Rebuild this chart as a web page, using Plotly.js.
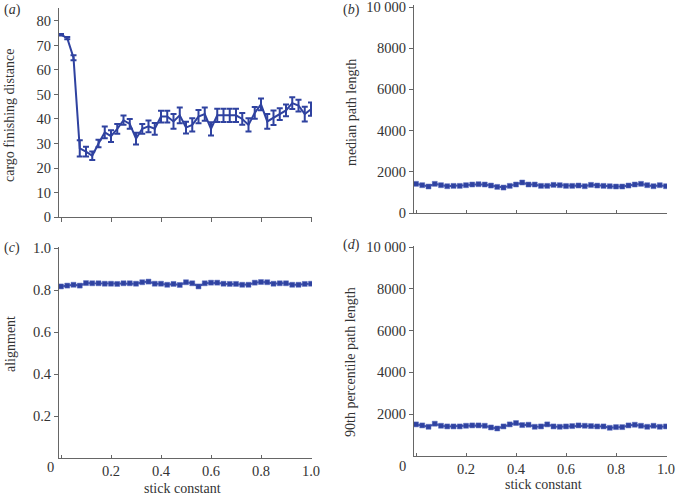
<!DOCTYPE html>
<html>
<head>
<meta charset="utf-8">
<script src="https://cdn.plot.ly/plotly-3.0.1.min.js"></script>
<style>html,body{margin:0;padding:0;background:#fff;}#plot{width:682px;height:497px;}</style>
</head>
<body>
<div id="plot"></div>
<script>
const stick = [0, 0.025, 0.05, 0.075, 0.1, 0.125, 0.15, 0.175, 0.2, 0.225, 0.25, 0.275, 0.3, 0.325, 0.35, 0.375, 0.4, 0.425, 0.45, 0.475, 0.5, 0.525, 0.55, 0.575, 0.6, 0.625, 0.65, 0.675, 0.7, 0.725, 0.75, 0.775, 0.8, 0.825, 0.85, 0.875, 0.9, 0.925, 0.95, 0.975, 1.0];

const cargoDistance = [74.4, 73, 65, 28, 26.7, 25, 30, 34.5, 33, 36, 39.5, 38, 32, 36, 37, 36, 41, 41, 39, 41.5, 36.5, 37.6, 41, 42, 36, 41.5, 41.5, 41.5, 41.5, 40, 37.6, 42.5, 46, 39, 40.5, 42, 43.5, 46.5, 45.5, 42, 44];
const cargoError = [0.3, 0.5, 1.0, 3.3, 2, 1.7, 1.5, 2.4, 2.4, 2, 1.9, 2, 2.4, 2, 2.4, 2.4, 2.4, 2.4, 3, 3.2, 2.4, 2.7, 2.7, 2.7, 2.7, 2.7, 2.7, 2.7, 2.7, 2.4, 2.7, 2.4, 2.4, 3, 3, 2.4, 2.4, 2.4, 2.4, 3, 2.7];

const medianPath = [1415, 1350, 1285, 1415, 1350, 1300, 1317, 1317, 1350, 1382, 1398, 1382, 1333, 1268, 1236, 1317, 1382, 1480, 1382, 1382, 1317, 1317, 1366, 1350, 1317, 1317, 1333, 1300, 1366, 1333, 1317, 1300, 1285, 1285, 1333, 1382, 1415, 1350, 1300, 1350, 1300];

const alignment = [0.817, 0.821, 0.825, 0.821, 0.833, 0.832, 0.832, 0.830, 0.830, 0.829, 0.832, 0.832, 0.830, 0.837, 0.840, 0.830, 0.830, 0.825, 0.829, 0.824, 0.837, 0.832, 0.817, 0.832, 0.835, 0.835, 0.830, 0.829, 0.829, 0.825, 0.825, 0.835, 0.838, 0.837, 0.830, 0.832, 0.832, 0.825, 0.825, 0.829, 0.830];

const path90 = [1512, 1463, 1398, 1545, 1447, 1415, 1415, 1415, 1447, 1463, 1463, 1447, 1366, 1317, 1415, 1512, 1577, 1480, 1496, 1398, 1415, 1512, 1415, 1398, 1415, 1431, 1463, 1447, 1431, 1415, 1415, 1350, 1382, 1382, 1463, 1496, 1447, 1398, 1447, 1398, 1415];

const xTickVals = [0, 0.2, 0.4, 0.6, 0.8, 1.0];
const xTickText = ['', '0.2', '0.4', '0.6', '0.8', '1.0'];
const yTicksA = [0, 10, 20, 30, 40, 50, 60, 70, 80];
const yTicksB = [0, 2000, 4000, 6000, 8000, 10000];
const yTextB = ['0', '2000', '4000', '6000', '8000', '10 000'];
const yTicksC = [0.2, 0.4, 0.6, 0.8, 1.0];
const yTextC = ['0.2', '0.4', '0.6', '0.8', '1.0'];
const yTicksD = [2000, 4000, 6000, 8000, 10000];
const yTextD = ['2000', '4000', '6000', '8000', '10 000'];

const BLUE = '#2f42a0';
const W = 682, H = 497;
const px = v => v / W;
const py = v => (H - v) / H;

const lineStyle = {color: BLUE, width: 2};
const markerSq = {symbol: 'square', size: 5, color: BLUE, line: {color: '#5a6cc0', width: 0.5}};

const traces = [
  {x: stick, y: cargoDistance, xaxis: 'x', yaxis: 'y', mode: 'lines', line: lineStyle,
   error_y: {type: 'data', array: cargoError, visible: true, color: BLUE, thickness: 2, width: 3}},
  {x: stick, y: medianPath, xaxis: 'x2', yaxis: 'y2', mode: 'lines+markers', line: lineStyle, marker: markerSq},
  {x: stick, y: alignment, xaxis: 'x3', yaxis: 'y3', mode: 'lines+markers', line: lineStyle, marker: markerSq},
  {x: stick, y: path90, xaxis: 'x4', yaxis: 'y4', mode: 'lines+markers', line: lineStyle, marker: markerSq}
];

const FONT = "'Liberation Serif', 'Times New Roman', serif";
const axBase = {
  showline: true, linecolor: '#666', linewidth: 1, showgrid: false, zeroline: false,
  ticks: 'outside', ticklen: 4, tickcolor: '#666', tickwidth: 1, ticklabeloverflow: 'allow',
  tickfont: {family: FONT, size: 14.5, color: '#333'}, fixedrange: true
};
const xAx = {ticks: 'inside', ticklen: 3};
const xRange = [-0.008, 1.004];

const layout = {
  width: W, height: H, showlegend: false,
  margin: {l: 0, r: 0, t: 0, b: 0},
  paper_bgcolor: '#fff', plot_bgcolor: '#fff',
  font: {family: FONT, color: '#333'},
  xaxis: Object.assign({}, axBase, {domain: [px(59), px(312)], range: xRange, anchor: 'y', tickvals: xTickVals, showticklabels: false, ticklen: 4}),
  yaxis: Object.assign({}, axBase, {domain: [py(217), py(8)], range: [0, 85.3], anchor: 'x', tickvals: yTicksA}),
  xaxis2: Object.assign({}, axBase, xAx, {domain: [px(414), px(667)], range: xRange, anchor: 'y2', tickvals: xTickVals, showticklabels: false}),
  yaxis2: Object.assign({}, axBase, {domain: [py(213), py(5)], range: [0, 10097], anchor: 'x2', tickvals: yTicksB, ticktext: yTextB}),
  xaxis3: Object.assign({}, axBase, xAx, {domain: [px(59), px(312)], range: xRange, anchor: 'y3', tickvals: xTickVals, ticktext: xTickText}),
  yaxis3: Object.assign({}, axBase, {domain: [py(458), py(247)], range: [0, 1.0048], anchor: 'x3', tickvals: yTicksC, ticktext: yTextC}),
  xaxis4: Object.assign({}, axBase, xAx, {domain: [px(414), px(667)], range: xRange, anchor: 'y4', tickvals: xTickVals, ticktext: xTickText}),
  yaxis4: Object.assign({}, axBase, {domain: [py(456), py(246)], range: [0, 10048], anchor: 'x4', tickvals: yTicksD, ticktext: yTextD}),
  annotations: [
    {text: '(<i>a</i>)', x: px(2), y: py(10), xanchor: 'left', yanchor: 'middle'},
    {text: '(<i>b</i>)', x: px(341), y: py(10), xanchor: 'left', yanchor: 'middle'},
    {text: '(<i>c</i>)', x: px(2), y: py(248), xanchor: 'left', yanchor: 'middle'},
    {text: '(<i>d</i>)', x: px(341), y: py(245), xanchor: 'left', yanchor: 'middle'},
    {text: 'cargo finishing distance', x: px(10), y: py(115), textangle: -90},
    {text: 'median path length', x: px(351), y: py(113), textangle: -90},
    {text: 'alignment', x: px(10), y: py(344), textangle: -90},
    {text: '90th percentile path length', x: px(350), y: py(362), textangle: -90},
    {text: 'stick constant', x: px(182), y: py(488)},
    {text: 'stick constant', x: px(543), y: py(484)},
    {text: '0', x: px(50), y: py(467), font: {size: 14.5}},
    {text: '0', x: px(402), y: py(466), font: {size: 14.5}}
  ].map(a => Object.assign({xref: 'paper', yref: 'paper', showarrow: false, xanchor: 'center', yanchor: 'middle'}, a,
    {font: Object.assign({family: FONT, size: 14, color: '#333'}, a.font || {})}))
};

Plotly.newPlot('plot', traces, layout, {staticPlot: true, displayModeBar: false});
</script>
</body>
</html>
